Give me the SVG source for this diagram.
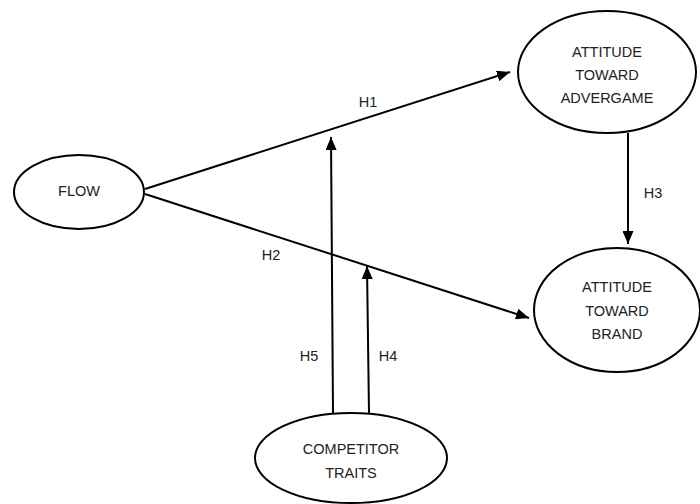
<svg xmlns="http://www.w3.org/2000/svg" width="700" height="504" viewBox="0 0 700 504">
<style>
.node{fill:#fff;stroke:#000;stroke-width:2}
.t{font-family:"Liberation Sans",Arial,sans-serif;font-size:14.5px;fill:#222;text-anchor:middle}
.e{stroke:#000;stroke-width:2;fill:none;marker-end:url(#ah)}
</style>
<defs>
<marker id="ah" viewBox="0 0 13 11" refX="13" refY="5.5" markerWidth="13" markerHeight="11" markerUnits="userSpaceOnUse" orient="auto">
<path d="M0,0 L13,5.5 L0,11 Z" fill="#000"/>
</marker>
</defs>
<rect width="700" height="504" fill="#fff"/>
<g id="connectors">
<line class="e" x1="145" y1="189" x2="510" y2="72"/>
<line class="e" x1="145" y1="194" x2="529" y2="318"/>
<line class="e" x1="628" y1="133" x2="628" y2="244"/>
<line class="e" x1="333" y1="413" x2="331" y2="137"/>
<line class="e" x1="369" y1="413" x2="367" y2="266"/>
<text class="t" x="368" y="107">H1</text>
<text class="t" x="271" y="260">H2</text>
<text class="t" x="653" y="198">H3</text>
<text class="t" x="388" y="361">H4</text>
<text class="t" x="309" y="361">H5</text>
</g>
<g id="flow">
<ellipse class="node" cx="79" cy="192" rx="65" ry="37"/>
<text class="t" x="79" y="196">FLOW</text>
</g>
<g id="advergame">
<ellipse class="node" cx="607" cy="72" rx="89" ry="61"/>
<text class="t" x="607" y="57">ATTITUDE</text>
<text class="t" x="607" y="80">TOWARD</text>
<text class="t" x="607" y="103">ADVERGAME</text>
</g>
<g id="brand">
<ellipse class="node" cx="617" cy="310" rx="83" ry="62"/>
<text class="t" x="617" y="292">ATTITUDE</text>
<text class="t" x="617" y="316">TOWARD</text>
<text class="t" x="617" y="339">BRAND</text>
</g>
<g id="competitor">
<ellipse class="node" cx="351" cy="458" rx="96" ry="45"/>
<text class="t" x="351" y="454">COMPETITOR</text>
<text class="t" x="351" y="478">TRAITS</text>
</g>
</svg>
